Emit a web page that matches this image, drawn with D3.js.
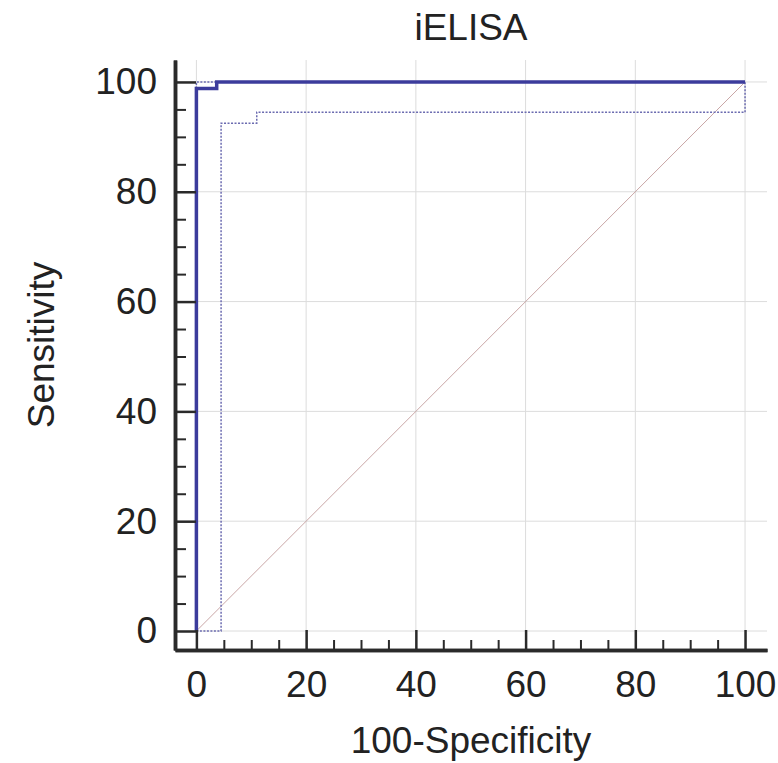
<!DOCTYPE html>
<html>
<head>
<meta charset="utf-8">
<script src="https://cdn.jsdelivr.net/npm/d3@7"></script>
<style>
  body { margin: 0; background: #fff; }
  svg text { font-family: "Liberation Sans", Arial, sans-serif; fill: #222; }
</style>
</head>
<body>
<svg width="778" height="763"></svg>
<script>
// data
var majorTicks = [0, 20, 40, 60, 80, 100];
var minorTicks = [5, 10, 15, 25, 30, 35, 45, 50, 55, 65, 70, 75, 85, 90, 95];
var rocX  = [0, 0, 3.7, 3.7, 100];
var rocY  = [0, 98.8, 98.8, 100, 100];
var lowX  = [0, 4.5, 4.5, 11, 11, 100, 100];
var lowY  = [0, 0, 92.5, 92.5, 94.5, 94.5, 100];
var highX = [0, 0, 100];
var highY = [0, 100, 100];
var diagX = [0, 100];
var diagY = [0, 100];

var svg = d3.select("svg");

// scales (axis range runs a bit past 0..100)
var x = d3.scaleLinear().domain([-3.9, 104]).range([175, 767]);
var y = d3.scaleLinear().domain([-3.46, 104]).range([650, 60]);

var blue = "#3c3c9c";

// grid
var grid = svg.append("g");
grid.selectAll(".gx").data(majorTicks).enter().append("line")
    .attr("x1", d => x(d)).attr("x2", d => x(d))
    .attr("y1", y(-3.46)).attr("y2", y(104))
    .attr("stroke", "#dcdcdc").attr("stroke-width", 1);
grid.selectAll(".gy").data(majorTicks).enter().append("line")
    .attr("y1", d => y(d)).attr("y2", d => y(d))
    .attr("x1", x(-3.9)).attr("x2", x(104))
    .attr("stroke", "#dcdcdc").attr("stroke-width", 1);

var line = d3.line().x(d => x(d[0])).y(d => y(d[1]));
function pts(xs, ys) { return xs.map((v, i) => [v, ys[i]]); }

// diagonal reference
svg.append("path").datum(pts(diagX, diagY)).attr("d", line)
    .attr("fill", "none").attr("stroke", "#c9a6a6").attr("stroke-width", 1);

// confidence bounds (dotted)
[pts(lowX, lowY), pts(highX, highY)].forEach(function(p) {
  svg.append("path").datum(p).attr("d", line)
      .attr("fill", "none").attr("stroke", "#6b6bb0").attr("stroke-width", 1.5)
      .attr("stroke-dasharray", "2,1.5");
});

// ROC curve
svg.append("path").datum(pts(rocX, rocY)).attr("d", line)
    .attr("fill", "none").attr("stroke", blue).attr("stroke-width", 3.5)
    .attr("stroke-linejoin", "miter");

// axes
var xAxis = d3.axisBottom(x).tickValues(majorTicks).tickSizeInner(-20).tickSizeOuter(0).tickPadding(21);
var xMinor = d3.axisBottom(x).tickValues(minorTicks).tickSizeInner(-10).tickSizeOuter(0).tickFormat("");
var yAxis = d3.axisLeft(y).tickValues(majorTicks).tickSizeInner(-21).tickSizeOuter(0).tickPadding(18);
var yMinor = d3.axisLeft(y).tickValues(d3.range(5, 100, 5).filter(d => d % 20)).tickSizeInner(-11).tickSizeOuter(0).tickFormat("");

function styleAxis(g) {
  g.select(".domain").attr("stroke", "#2a2a2a").attr("stroke-width", 3.5);
  g.selectAll(".tick line").attr("stroke", "#2a2a2a").attr("stroke-width", 2.5);
  g.selectAll(".tick text").attr("font-size", 37).attr("fill", "#222")
      .style("font-family", "'Liberation Sans', Arial, sans-serif");
}

svg.append("g").attr("transform", "translate(0,650)").call(xMinor).call(styleAxis)
    .selectAll(".tick line").attr("stroke-width", 2);
svg.append("g").attr("transform", "translate(0,650)").call(xAxis).call(styleAxis);
svg.append("g").attr("transform", "translate(175,0)").call(yMinor).call(styleAxis)
    .selectAll(".tick line").attr("stroke-width", 2);
svg.append("g").attr("transform", "translate(175,0)").call(yAxis).call(styleAxis);

// titles
svg.append("text").attr("x", 471).attr("y", 40).attr("text-anchor", "middle")
    .attr("font-size", 37).text("iELISA");
svg.append("text").attr("x", 471).attr("y", 753).attr("text-anchor", "middle")
    .attr("font-size", 37).text("100-Specificity");
svg.append("text").attr("transform", "translate(54,345) rotate(-90)")
    .attr("text-anchor", "middle").attr("font-size", 37).text("Sensitivity");
</script>
</body>
</html>
